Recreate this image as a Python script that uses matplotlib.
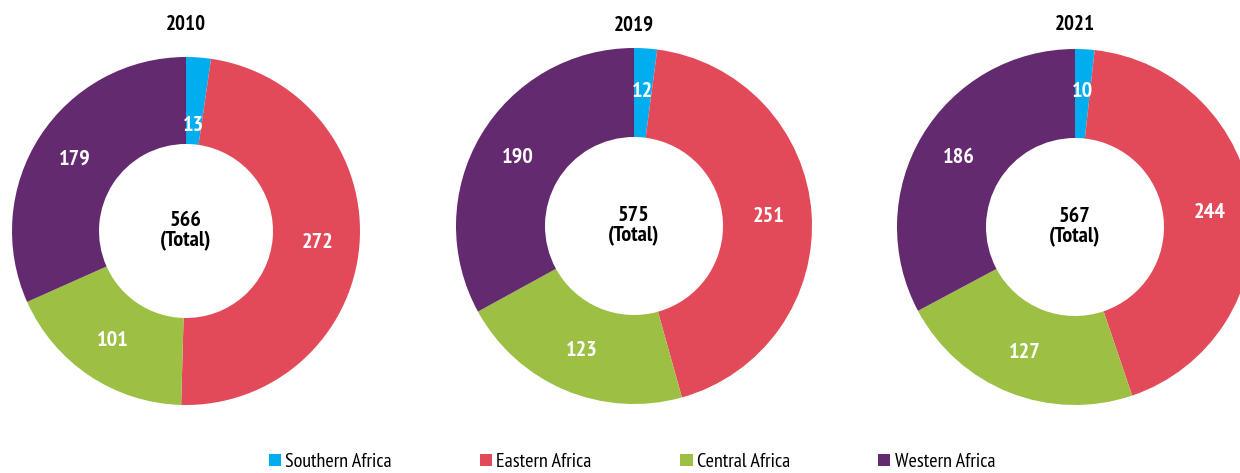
import matplotlib
matplotlib.use("Agg")
import matplotlib.pyplot as plt
from matplotlib.patches import Patch

plt.rcParams['font.family'] = ['PT Sans Narrow', 'DejaVu Sans']

# data
regions = ["Southern Africa", "Eastern Africa", "Central Africa", "Western Africa"]
colors = ["#00AEEF", "#E34A59", "#9DC044", "#642A6F"]
years = ["2010", "2019", "2021"]
vals_2010 = [13, 272, 101, 179]
vals_2019 = [12, 251, 123, 190]
vals_2021 = [10, 244, 127, 186]
totals = [566, 575, 567]

W, H = 1240, 473
fig = plt.figure(figsize=(W / 100, H / 100), dpi=100)

# donut boxes in pixels: center x, center y (from top), radius
boxes = [(186, 231, 174), (634, 226, 178), (1075, 227, 178)]
series = [vals_2010, vals_2019, vals_2021]

for (cx, cy, r), year, vals, tot in zip(boxes, years, series, totals):
    ax = fig.add_axes([(cx - r) / W, (H - cy - r) / H, 2 * r / W, 2 * r / H])
    wedges, texts = ax.pie(vals, colors=colors, startangle=90, counterclock=False,
                           labels=[str(v) for v in vals], labeldistance=0.76,
                           wedgeprops=dict(width=0.5, linewidth=0),
                           textprops=dict(color="white", fontsize=16, fontweight="bold",
                                          ha="center", va="center"))
    # small slice label sits a bit closer to the hole
    if year == "2010":
        x, y = texts[0].get_position()
        texts[0].set_position((x * 0.8, y * 0.8))
    ax.text(0, 0, f"{tot}\n(Total)", ha="center", va="center", fontsize=16,
            fontweight="bold", linespacing=1.1)
    ax.set_xlim(-1, 1)
    ax.set_ylim(-1, 1)
    ax.set_aspect("equal")
    ax.axis("off")
    fig.text(cx / W, (H - 25) / H, year, ha="center", va="center",
             fontsize=15, fontweight="bold")

handles = [Patch(facecolor=c, edgecolor="none") for c in colors]
fig.legend(handles, regions, loc="center", bbox_to_anchor=(632 / W, (H - 462) / H),
           ncol=4, frameon=False, fontsize=14.5, handlelength=0.6, handleheight=0.6,
           handletextpad=0.2, columnspacing=4.4, borderpad=0)

fig.savefig("out.png", dpi=100)
